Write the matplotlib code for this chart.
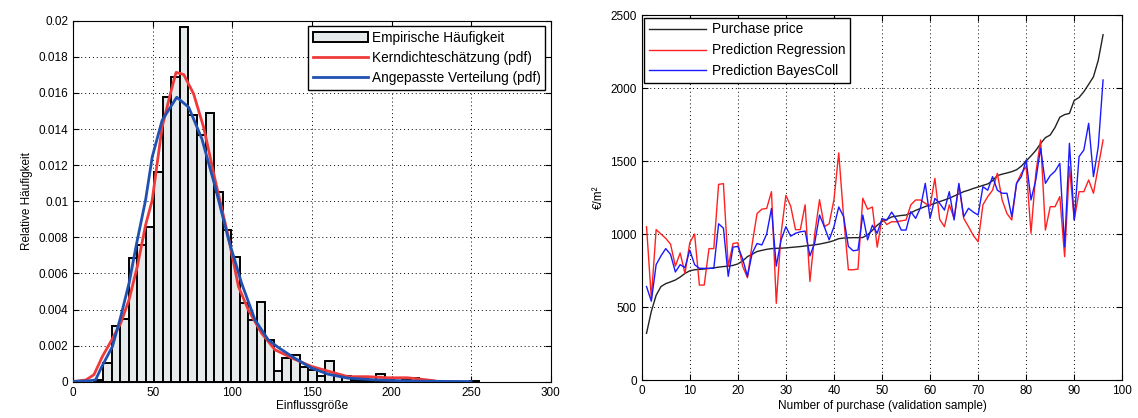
import numpy as np
import matplotlib
matplotlib.use("Agg")
import matplotlib.pyplot as plt
import matplotlib.ticker as mticker

plt.rcParams.update({
    "font.family": ["Liberation Sans", "DejaVu Sans"],
    "font.size": 8.5,
    "axes.linewidth": 0.8,
    "xtick.direction": "in",
    "ytick.direction": "in",
    "xtick.top": True,
    "ytick.right": True,
    "xtick.major.size": 4,
    "ytick.major.size": 4,
})

# ── Left panel: histogram + pdfs ─────────────────────────────────────────────
bin_start = 13.3
bin_width = 5.37
hist_heights = [
    0.0001, 0.00103, 0.00306, 0.00347, 0.00684, 0.00757, 0.00855, 0.01162,
    0.01577, 0.01691, 0.01967, 0.01475, 0.01368, 0.0149, 0.0105, 0.0084,
    0.00692, 0.00436, 0.00343, 0.00444, 0.00232, 0.00057, 0.00132, 0.00149,
    0.00079, 0.00066, 0.0003, 0.00114, 0.00039, 0.0003, 0.0001, 0.0001,
    0.0001, 0.0004, 0.0001, 0.0, 0.0001, 0.0002, 0.0, 0.0, 0.0, 0.0,
    0.0, 0.0, 0.00005,
]

kde_x = [0, 8, 13, 18.3, 24.2, 29.8, 35, 40.2, 45.4, 49.6, 55.8, 61, 64.6,
         69.4, 75.6, 81.9, 89.2, 97.5, 103.8, 110, 118.3, 126.7, 139, 149.6,
         160, 172.5, 185, 197.5, 210, 222.5, 227]
kde_y = [0.0, 0.0001, 0.00039, 0.0014, 0.00232, 0.00324, 0.00453, 0.00637,
         0.00867, 0.01006, 0.0141, 0.01595, 0.01714, 0.01702, 0.01595, 0.0141,
         0.01116, 0.0080, 0.00527, 0.00398, 0.00269, 0.00177, 0.00125, 0.00085,
         0.00059, 0.00028, 0.00028, 0.00022, 0.00022, 0.0001, 0.00005]

fit_x = [0, 10, 14, 18, 24.6, 29.8, 35, 40, 45.4, 49.6, 55.8, 65, 72.5, 80.8,
         89.2, 97.5, 105.8, 114.2, 122.5, 128.8, 139, 149.6, 160, 172.5, 190,
         210, 230, 250]
fit_y = [0.00002, 0.00005, 0.0001, 0.00085, 0.00195, 0.0036, 0.00545, 0.00775,
         0.01005, 0.01245, 0.01448, 0.01576, 0.01521, 0.01346, 0.01079, 0.0079,
         0.00545, 0.00343, 0.00232, 0.00190, 0.00131, 0.00076, 0.00042, 0.0002,
         0.0001, 0.00004, 0.00002, 0.00001]

# ── Right panel: purchase price vs predictions ───────────────────────────────
purchase_price = [
    320, 470, 580, 640, 660, 672, 685, 705, 730, 748,
    755, 758, 760, 764, 768, 773, 777, 780, 785, 795,
    815, 845, 862, 880, 888, 895, 900, 902, 903, 905,
    908, 911, 914, 918, 922, 926, 931, 938, 945, 955,
    968, 972, 974, 975, 975, 976, 995, 1025, 1060, 1085,
    1100, 1117, 1122, 1127, 1130, 1145, 1162, 1175, 1188, 1199,
    1210, 1222, 1233, 1245, 1260, 1275, 1290, 1300, 1312, 1322,
    1333, 1343, 1365, 1400, 1410, 1418, 1427, 1440, 1465, 1500,
    1535, 1572, 1620, 1660, 1678, 1730, 1800, 1818, 1826, 1915,
    1935, 1975, 2025, 2077, 2190, 2365,
]
pred_regression = [
    1050, 560, 1030, 1000, 970, 930, 780, 870, 730, 940,
    1000, 650, 650, 900, 900, 1340, 1345, 780, 935, 940,
    780, 700, 935, 1140, 1170, 1175, 1290, 525, 1005, 1265,
    1190, 1030, 1030, 1200, 675, 1000, 1235, 1050, 1070, 1235,
    1555, 1120, 755, 755, 760, 1245, 1170, 1185, 910, 1105,
    1065, 1084, 1084, 1090, 1096, 1200, 1233, 1233, 1210, 1190,
    1381, 1100, 1050, 1200, 1107, 1336, 1107, 1050, 990, 947,
    1200, 1256, 1300, 1416, 1233, 1140, 1096, 1347, 1416, 1461,
    1005, 1416, 1644, 1027, 1187, 1187, 1256, 845, 1461, 1096,
    1290, 1290, 1370, 1279, 1461, 1644,
]
pred_bayescoll = [
    640, 540, 790, 850, 900, 860, 740, 790, 770, 890,
    790, 765, 765, 765, 765, 1070, 1040, 710, 910, 915,
    830, 710, 870, 935, 925, 1000, 1175, 780, 960, 1050,
    985, 1005, 1015, 1020, 850, 940, 1130, 1050, 960, 1050,
    1185, 1120, 915, 885, 890, 1130, 960, 1060, 1005, 1105,
    1095, 1150, 1100, 1027, 1027, 1153, 1107, 1180, 1347, 1107,
    1244, 1210, 1164, 1290, 1096, 1347, 1119, 1176, 1150, 1130,
    1324, 1300, 1393, 1300, 1279, 1279, 1119, 1347, 1393, 1507,
    1233, 1370, 1587, 1347, 1400, 1430, 1484, 913, 1621, 1096,
    1530, 1575, 1758, 1393, 1598, 2055,
]
purchase_idx = np.arange(1, len(purchase_price) + 1)

fig = plt.figure(figsize=(11.38, 4.18), dpi=100)
ax0 = fig.add_axes([0.0644, 0.0868, 0.4195, 0.8636])
ax1 = fig.add_axes([0.5639, 0.0909, 0.4223, 0.8732])

# left
edges = bin_start + bin_width * np.arange(len(hist_heights))
bars = ax0.bar(edges, hist_heights, width=bin_width, align="edge",
               color="#e6eaea", edgecolor="black", linewidth=1.4,
               label="Empirische Häufigkeit", zorder=2)
l_kde, = ax0.plot(kde_x, kde_y, color="#f03a3a", lw=2.0, zorder=3,
                  label="Kerndichteschätzung (pdf)")
l_fit, = ax0.plot(fit_x, fit_y, color="#2050b0", lw=2.0, zorder=4,
                  label="Angepasste Verteilung (pdf)")
ax0.set_xlim(0, 300)
ax0.set_ylim(0, 0.02)
ax0.xaxis.set_major_locator(mticker.MultipleLocator(50))
ax0.yaxis.set_major_locator(mticker.MultipleLocator(0.002))
ax0.yaxis.set_major_formatter(mticker.FuncFormatter(lambda v, _: f"{v:g}"))
ax0.grid(True, ls=(0, (1, 3)), color="black", lw=0.7, zorder=0)
ax0.set_axisbelow(True)
ax0.set_xlabel("Einflussgröße", labelpad=1)
ax0.set_ylabel("Relative Häufigkeit", labelpad=4)
ax0.legend(handles=[bars, l_kde, l_fit], loc="upper right", fancybox=False,
           edgecolor="black", framealpha=1, handlelength=4.0, borderpad=0.35,
           labelspacing=0.45, fontsize=9.8, borderaxespad=0.4,
           handletextpad=0.3)

# right
ax1.plot(purchase_idx, purchase_price, color="#222222", lw=1.0,
         label="Purchase price")
ax1.plot(purchase_idx, pred_regression, color="#ff2020", lw=1.0,
         label="Prediction Regression")
ax1.plot(purchase_idx, pred_bayescoll, color="#1a1aff", lw=1.0,
         label="Prediction BayesColl")
ax1.set_xlim(0, 100)
ax1.set_ylim(0, 2500)
ax1.xaxis.set_major_locator(mticker.MultipleLocator(10))
ax1.yaxis.set_major_locator(mticker.MultipleLocator(500))
ax1.grid(True, ls=(0, (1, 3)), color="black", lw=0.7)
ax1.set_xlabel("Number of purchase (validation sample)", labelpad=2)
ax1.set_ylabel("€/m²", labelpad=4)
ax1.legend(loc="upper left", fancybox=False, edgecolor="black",
           framealpha=1, handlelength=4.2, borderpad=0.35, labelspacing=0.5,
           fontsize=9.8, borderaxespad=0.2, handletextpad=0.4)

fig.savefig("out.png", dpi=100)
